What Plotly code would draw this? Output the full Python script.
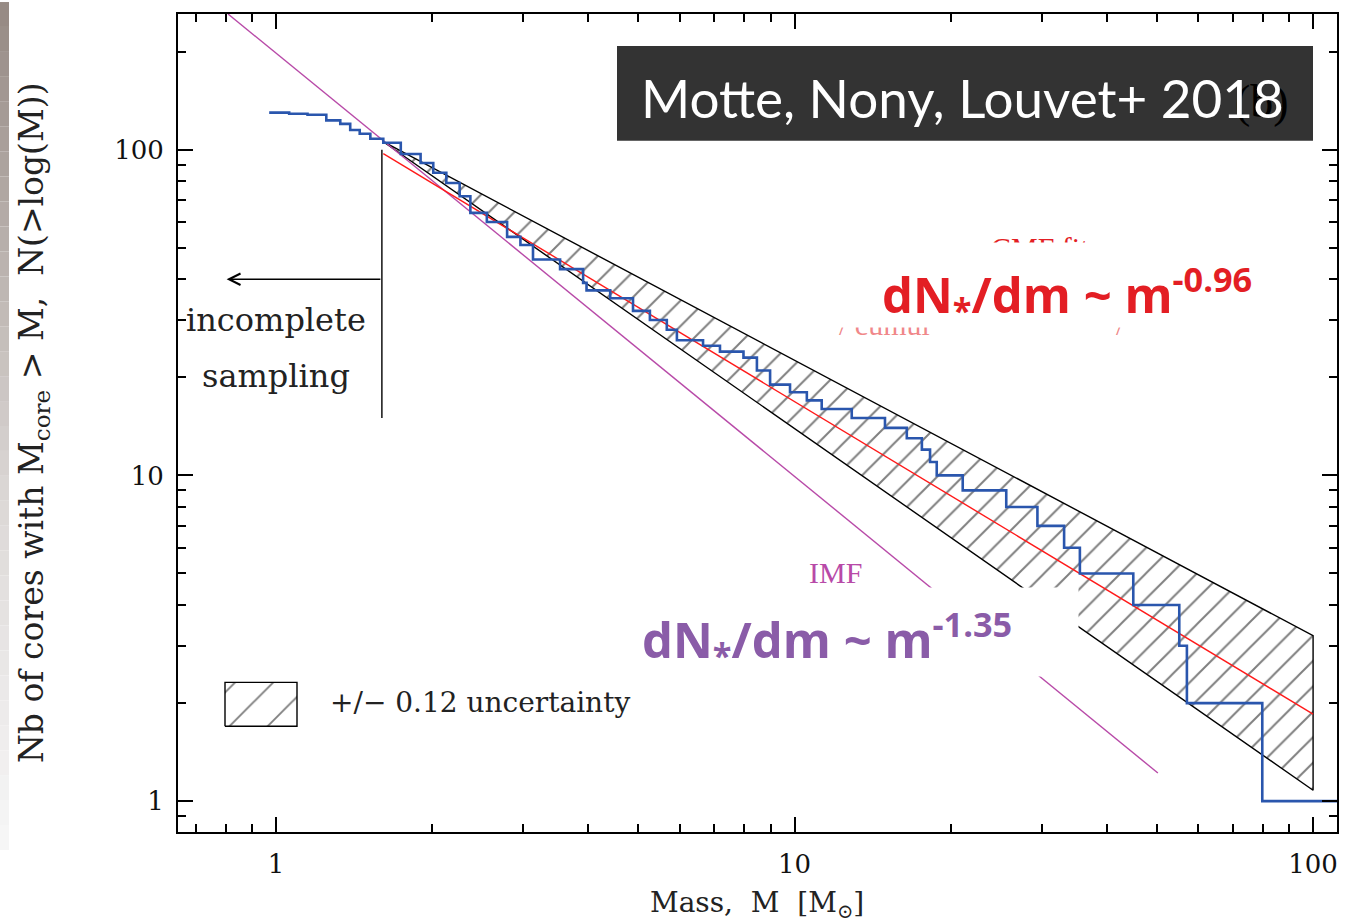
import math
import plotly.graph_objects as go

# ---------------- data ----------------
# cumulative core mass function N(>M): mass at which the count becomes N
cmf_mass = [0.97, 1.06, 1.15, 1.25, 1.33, 1.39, 1.45, 1.52, 1.61, 1.74, 1.90, 2.01, 2.13,
            2.26, 2.37, 2.55, 2.79, 2.96, 3.13, 3.53, 3.91, 3.97, 4.41, 4.88, 5.26,
            5.67, 5.93, 6.66, 7.18, 7.97, 8.46, 8.97, 9.80, 10.56, 11.28, 12.89,
            14.94, 16.46, 17.6, 18.25, 18.8, 21.1, 25.6, 29.4, 33.1, 35.5, 45.0,
            55.2, 57.1, 79.8, 112.0]
cmf_count = [130, 129, 128, 123, 120, 115, 112, 108, 105, 97, 91, 85, 79,
             72, 64, 60, 54, 51, 46, 43, 39, 37, 35, 32, 30,
             28, 26, 25, 24, 23, 21, 19, 18, 17, 16, 15,
             14, 13, 12, 11, 10, 9, 8, 7, 6, 5, 4,
             3, 2, 1, 1]

# power-law fit of the CMF (slope -0.96)
fit_mass = [1.61, 100.0]
fit_count = [97.2, 1.85]

# +/- 0.12 uncertainty wedge
band_mass = [1.61, 100.0, 100.0, 1.61]
band_count = [105.8, 3.22, 1.08, 105.8]

# IMF (slope -1.35)
imf_mass = [0.808, 50.2]
imf_count = [261.0, 1.22]

# completeness limit marker
complete_mass = [1.60, 1.60]
complete_count = [15.0, 100.0]
arrow_tip_mass = 0.803
arrow_count = 40.0

x_range = [0.647, 111.2]
y_range = [0.804, 261.0]
major_ticks = [1, 10, 100]
major_labels = ["1", "10", "100"]

# ---------------- geometry helpers ----------------
W, H = 1353, 923
ML, MR, MT, MB = 178, 16, 12, 91
PW, PH = W - ML - MR, H - MT - MB


def px(xp, yp):
    return (xp - ML) / PW, (H - MB - yp) / PH


def minor_vals(lo, hi):
    out = []
    for e in range(-1, 3):
        for k in range(2, 10):
            v = k * 10 ** e
            if lo <= v <= hi:
                out.append(v)
    return out


SERIF = "DejaVu Serif"
BIG = "Open Sans"
RED = "#e31e24"
PURPLE = "#8a5ca8"
MAGENTA = "#b84aa8"

fig = go.Figure()

# hatched uncertainty wedge
fig.add_trace(go.Scatter(
    x=band_mass, y=band_count, mode="lines", fill="toself",
    fillcolor="rgba(0,0,0,0)",
    fillpattern=dict(shape="/", fgcolor="black", bgcolor="rgba(0,0,0,0)",
                     size=18, solidity=0.11),
    line=dict(color="black", width=1.4), hoverinfo="skip"))

# IMF
fig.add_trace(go.Scatter(x=imf_mass, y=imf_count, mode="lines",
                         line=dict(color=MAGENTA, width=1.4), hoverinfo="skip"))
# CMF fit
fig.add_trace(go.Scatter(x=fit_mass, y=fit_count, mode="lines",
                         line=dict(color="#ff1a1a", width=1.4), hoverinfo="skip"))
# CMF
fig.add_trace(go.Scatter(x=cmf_mass, y=cmf_count, mode="lines",
                         line=dict(color="#2a56ad", width=2.6, shape="hv"),
                         hoverinfo="skip"))
# completeness line
fig.add_trace(go.Scatter(x=complete_mass, y=complete_count, mode="lines",
                         line=dict(color="black", width=1.4), hoverinfo="skip"))

# legend swatch (axis-fraction coordinates on an overlay axis)
lx0, ly0 = px(225, 726)
lx1, ly1 = px(297, 682)
fig.add_trace(go.Scatter(
    x=[lx0, lx1, lx1, lx0, lx0], y=[ly0, ly0, ly1, ly1, ly0],
    xaxis="x2", yaxis="y2", mode="lines", fill="toself",
    fillcolor="rgba(0,0,0,0)",
    fillpattern=dict(shape="/", fgcolor="black", bgcolor="rgba(0,0,0,0)",
                     size=27, solidity=0.07),
    line=dict(color="black", width=1.4), hoverinfo="skip"))

axis_common = dict(
    type="log", showline=True, linecolor="black", linewidth=2,
    mirror="allticks", ticks="inside", ticklen=15, tickwidth=1.5,
    tickcolor="black", showgrid=False, zeroline=False,
    tickfont=dict(family=SERIF, size=26, color="#111111"),
    tickvals=major_ticks, ticktext=major_labels,
)

fig.update_layout(
    width=W, height=H,
    margin=dict(l=ML, r=MR, t=MT, b=MB),
    paper_bgcolor="white", plot_bgcolor="white",
    showlegend=False,
    xaxis=dict(axis_common,
               range=[math.log10(x_range[0]), math.log10(x_range[1])],
               ticklabelstandoff=8,
               minor=dict(ticks="inside", ticklen=8, tickwidth=1.5,
                          tickcolor="black",
                          tickvals=minor_vals(*x_range))),
    yaxis=dict(axis_common,
               range=[math.log10(y_range[0]), math.log10(y_range[1])],
               ticklabelstandoff=7,
               minor=dict(ticks="inside", ticklen=8, tickwidth=1.5,
                          tickcolor="black",
                          tickvals=minor_vals(*y_range))),
    xaxis2=dict(overlaying="x", range=[0, 1], visible=False),
    yaxis2=dict(overlaying="y", range=[0, 1], visible=False),
)

# ---------------- shapes ----------------
shapes = []
# dark title box
bx0, by0 = px(617, 139)
bx1, by1 = px(1313, 44)
shapes.append(dict(type="rect", xref="paper", yref="paper", x0=bx0, x1=bx1,
                   y0=by0, y1=by1, fillcolor="#333333", line=dict(width=0),
                   layer="above"))
# faded grey strip on the left edge
stops = [(0, (0x95, 0x89, 0x83)), (250, (0xb9, 0xb1, 0xad)),
         (500, (0xdc, 0xd8, 0xd6)), (700, (0xec, 0xea, 0xea)),
         (850, (0xf7, 0xf7, 0xf7))]
nseg = 34
for i in range(nseg):
    y0p = 850 * i / nseg
    y1p = 850 * (i + 1) / nseg
    ym = 0.5 * (y0p + y1p)
    for (a, ca), (b, cb) in zip(stops[:-1], stops[1:]):
        if a <= ym <= b:
            t = (ym - a) / (b - a)
            c = tuple(int(round(ca[j] + t * (cb[j] - ca[j]))) for j in range(3))
            break
    sx0, sy0 = px(0, y1p)
    sx1, sy1 = px(9, y0p)
    shapes.append(dict(type="rect", xref="paper", yref="paper", x0=sx0, x1=sx1,
                       y0=sy0, y1=sy1, fillcolor="rgb(%d,%d,%d)" % c,
                       line=dict(width=0), layer="below"))
fig.update_layout(shapes=shapes)

# ---------------- annotations ----------------
ann = []


def text_at(xp, yp, text, size, color, family=SERIF, xanchor="center", **kw):
    x, y = px(xp, yp)
    d = dict(xref="paper", yref="paper", x=x, y=y, text=text, showarrow=False,
             xanchor=xanchor, yanchor="middle",
             font=dict(family=family, size=size, color=color))
    d.update(kw)
    ann.append(d)


def mask(x0, x1, y0, y1):
    text_at((x0 + x1) / 2, (y0 + y1) / 2, "&nbsp;", 10, "white",
            bgcolor="white", width=x1 - x0, height=y1 - y0, borderpad=0)


# partially hidden "CMF fit" label pieces (covered by the white mask below)
text_at(1040, 246, "CMF fit", 30, RED, family="Liberation Serif")
text_at(884, 323, "/ cumul", 30, "rgba(227,30,36,0.55)", family="Liberation Serif")
text_at(1120, 323, "/", 30, "rgba(227,30,36,0.55)", family="Liberation Serif")
mask(832, 1262, 242, 326)
text_at(1067, 293, "<b>dN<sub>*</sub>/dm ~ m<sup>-0.96</sup></b>", 49, RED,
        family=BIG)

# IMF label
text_at(835, 572, "IMF", 30, MAGENTA, family="Liberation Serif")

# purple law over a white mask
mask(630, 1078, 588, 676)
text_at(827, 639, "<b>dN<sub>*</sub>/dm ~ m<sup>-1.35</sup></b>", 49, PURPLE,
        family=BIG)

# title box text
text_at(1262, 100, "(b)", 46, "black", family="Liberation Serif")
text_at(962, 96, "Motte, Nony, Louvet+ 2018", 53, "white", family="Lato")

# incomplete sampling
text_at(276, 319, "incomplete", 32, "#222222")
text_at(276, 375, "sampling", 32, "#222222")

# legend text
text_at(328, 702, "+/\u2212 0.12 uncertainty", 28, "#222222", xanchor="left")

# arrow
ann.append(dict(xref="x", yref="y", axref="x", ayref="y",
                x=math.log10(arrow_tip_mass), y=math.log10(arrow_count),
                ax=math.log10(complete_mass[0]), ay=math.log10(arrow_count),
                showarrow=True, arrowhead=5, arrowsize=1.6, arrowwidth=1.4,
                arrowcolor="black", text=""))

# axis titles
text_at(757, 905, "Mass,  M  [M<sub>\u2299</sub>]", 28, "#222222")
text_at(33, 422, "Nb of cores with M<sub>core</sub> &gt; M,  N(&gt;log(M))", 33,
        "#222222", textangle=-90)

fig.update_layout(annotations=ann)

fig.write_html("out.html")
